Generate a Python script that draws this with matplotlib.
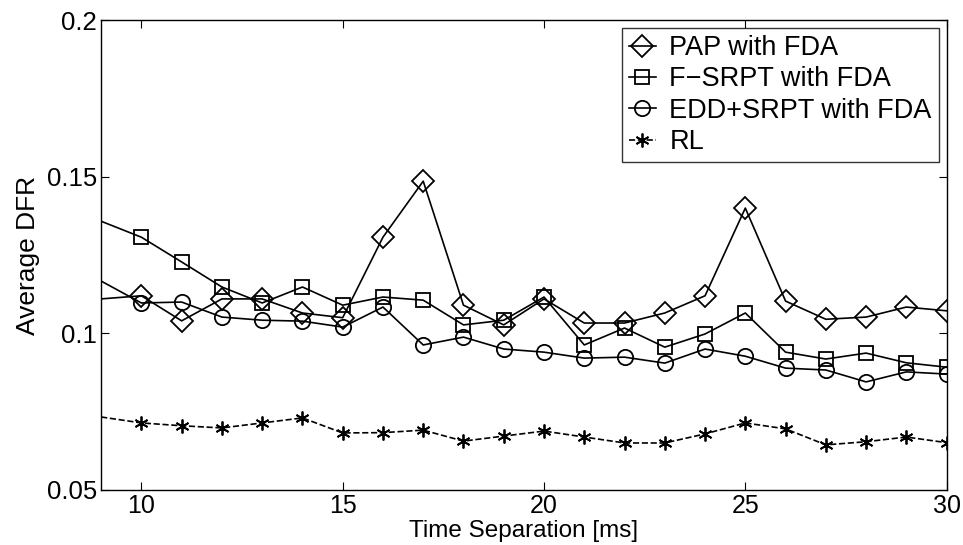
import matplotlib
matplotlib.use('Agg')
import matplotlib.pyplot as plt

plt.rcParams['font.family'] = ['Liberation Sans', 'DejaVu Sans']

# Abscisses (la première valeur, à 9, sert seulement au départ des courbes)
time_sep = [9, 10, 11, 12, 13, 14, 15, 16, 17, 18, 19, 20, 21, 22, 23, 24, 25, 26, 27, 28, 29, 30]

pap_fda = [0.111, 0.112, 0.104, 0.111, 0.111, 0.1065, 0.105, 0.1307, 0.1486, 0.109, 0.1027,
           0.111, 0.1033, 0.1033, 0.1065, 0.112, 0.140, 0.1103, 0.1045, 0.1052, 0.1084, 0.1072]
fsrpt_fda = [0.1358, 0.1307, 0.1228, 0.1148, 0.1097, 0.1148, 0.109, 0.1116, 0.1106, 0.1027, 0.1042,
             0.1116, 0.0963, 0.1017, 0.0956, 0.0998, 0.1065, 0.094, 0.0918, 0.0937, 0.0906, 0.0892]
edd_fda = [0.1167, 0.1097, 0.110, 0.1052, 0.1042, 0.1039, 0.102, 0.1084, 0.0963, 0.0988, 0.095,
           0.094, 0.0921, 0.0924, 0.0905, 0.095, 0.0927, 0.0889, 0.0883, 0.0845, 0.0877, 0.087]
rl = [0.0733, 0.0714, 0.0705, 0.0698, 0.0714, 0.073, 0.0682, 0.0683, 0.0691, 0.0656, 0.0672,
      0.0688, 0.0669, 0.065, 0.065, 0.0679, 0.0714, 0.0695, 0.0644, 0.0654, 0.0669, 0.0651]

fig = plt.figure(figsize=(9.63, 5.45), dpi=100)
ax = fig.add_axes([0.105, 0.101, 0.878, 0.862])

marks = list(range(1, len(time_sep)))
ax.plot(time_sep, pap_fda, 'k-', marker='D', ms=11, mfc='none', mew=1.3, lw=1.2,
        markevery=marks, label='PAP with FDA')
ax.plot(time_sep, fsrpt_fda, 'k-', marker='s', ms=10, mfc='none', mew=1.3, lw=1.2,
        markevery=marks, label='F\u2212SRPT with FDA')
ax.plot(time_sep, edd_fda, 'k-', marker='o', ms=11, mfc='none', mew=1.3, lw=1.2,
        markevery=marks, label='EDD+SRPT with FDA')
ax.plot(time_sep, rl, 'k--', marker=(6, 2, 0), ms=10, mew=1.3, lw=1.2,
        markevery=marks, label='RL')

ax.set_xlim(9, 30)
ax.set_ylim(0.05, 0.2)
ax.set_xticks([10, 15, 20, 25, 30])
ax.set_yticks([0.05, 0.1, 0.15, 0.2])
ax.set_yticklabels(['0.05', '0.1', '0.15', '0.2'])
ax.tick_params(direction='in', top=True, right=True, labelsize=18.5, length=6)
ax.tick_params(axis='x', labelsize=18, pad=3)
ax.tick_params(axis='y', pad=3)
for s in ax.spines.values():
    s.set_linewidth(1.0)

ax.set_xlabel('Time Separation [ms]', fontsize=17.5)
ax.xaxis.set_label_coords(0.5, -0.063)
ax.set_ylabel('Average DFR', fontsize=19, labelpad=5)

leg = ax.legend(loc='upper right', fontsize=19.5, handlelength=1.0, handletextpad=0.5,
                borderaxespad=0.3, borderpad=0.25, labelspacing=0.2,
                frameon=True, fancybox=False, edgecolor='k')
leg.get_frame().set_linewidth(1.0)

fig.savefig('out.png', dpi=100)
